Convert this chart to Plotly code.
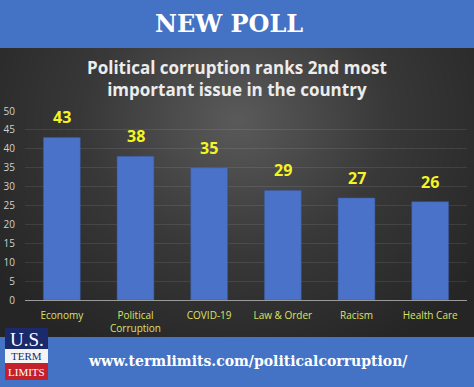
import numpy as np
import plotly.graph_objects as go

categories = ["Economy", "Political<br>Corruption", "COVID-19", "Law & Order", "Racism", "Health Care"]
values = [43, 38, 35, 29, 27, 26]
value_labels = ["43", "38", "35", "29", "27", "26"]
y_ticks = [0, 5, 10, 15, 20, 25, 30, 35, 40, 45, 50]

W, H = 474, 387

fig = go.Figure()

# decorative radial background (paper-pixel axes x/y)
gx = np.linspace(0, W, 48)
gy = np.linspace(48, 338, 30)
XX, YY = np.meshgrid(gx, gy)
d = np.sqrt(((XX - 237) / 300) ** 2 + ((YY - 120) / 260) ** 2)
Z = np.clip(1 - d, 0, 1)
fig.add_trace(go.Heatmap(x=gx, y=gy, z=Z, zsmooth="best", showscale=False,
                         colorscale=[[0, "#252525"], [0.5, "#383838"], [1, "#595959"]],
                         hoverinfo="skip", xaxis="x", yaxis="y"))

# bars on main axes
fig.add_trace(go.Bar(x=categories, y=values,
                     marker=dict(color="#4a72c8", line=dict(color="#3a5aa0", width=0.5)),
                     width=0.5, xaxis="x2", yaxis="y2"))

label_annotations = [
    dict(x=c, y=v, text=t, xref="x2", yref="y2", showarrow=False, yanchor="bottom", yshift=7,
         font=dict(family="Open Sans", size=16, color="#f5f523", weight="bold"))
    for c, v, t in zip(categories, values, value_labels)
]


def pa(text, px, py, **font):
    return dict(text=text, xref="paper", yref="paper", x=px / W, y=1 - py / H, showarrow=False,
                xanchor="center", yanchor="middle", font=font)


fig.update_layout(
    width=W, height=H,
    margin=dict(l=0, r=0, t=0, b=0),
    paper_bgcolor="#2e2e2e",
    plot_bgcolor="rgba(0,0,0,0)",
    showlegend=False,
    xaxis=dict(domain=[0, 1], range=[0, W], visible=False, fixedrange=True, automargin=False),
    yaxis=dict(domain=[0, 1], range=[H, 0], visible=False, fixedrange=True, automargin=False),
    xaxis2=dict(domain=[25 / W, 467 / W], anchor="y2", showgrid=False, automargin=False,
                tickfont=dict(family="Open Sans", size=10, color="#dde262"),
                showline=False, ticks="", ticklabelstandoff=8),
    yaxis2=dict(domain=[(H - 300) / H, (H - 111) / H], anchor="x2", range=[0, 50], automargin=False,
                tickvals=y_ticks, showgrid=True, gridcolor="rgba(255,255,255,0.09)", gridwidth=1,
                zeroline=True, zerolinecolor="#9a9a9a", zerolinewidth=1,
                tickfont=dict(family="Open Sans", size=10, color="#d0d0d0"),
                ticks="", ticklabelstandoff=9),
    bargap=0.5,
    shapes=[
        dict(type="rect", xref="paper", yref="paper", x0=0, x1=1, y0=1 - 48 / H, y1=1,
             fillcolor="#4472c4", line_width=0, layer="above"),
        dict(type="rect", xref="paper", yref="paper", x0=0, x1=1, y0=0, y1=(H - 337) / H,
             fillcolor="#4472c4", line_width=0, layer="above"),
        # logo boxes
        dict(type="rect", xref="paper", yref="paper", x0=5 / W, x1=48 / W, y0=1 - 349 / H, y1=1 - 328 / H,
             fillcolor="#1b2a6b", line_width=0, layer="above"),
        dict(type="rect", xref="paper", yref="paper", x0=5 / W, x1=48 / W, y0=1 - 363 / H, y1=1 - 349 / H,
             fillcolor="#f4f4f4", line_width=0, layer="above"),
        dict(type="rect", xref="paper", yref="paper", x0=5 / W, x1=48 / W, y0=1 - 380 / H, y1=1 - 363 / H,
             fillcolor="#c4202c", line_width=0, layer="above"),
    ],
    annotations=label_annotations + [
        pa("NEW POLL", 229, 23, family="DejaVu Serif", size=24, color="white", weight="bold"),
        pa("Political corruption ranks 2nd most<br>important issue in the country", 237, 78,
           family="Open Sans", size=17, color="#ececec", weight="bold"),
        pa("www.termlimits.com/politicalcorruption/", 248, 361,
           family="DejaVu Serif", size=14, color="white", weight="bold"),
        pa("U.S.", 26.5, 339, family="Liberation Serif", size=19, color="white"),
        pa("TERM", 26.5, 356, family="Liberation Serif", size=11, color="#1b2a6b"),
        pa("LIMITS", 26.5, 372, family="Liberation Serif", size=11, color="white"),
    ],
)

fig.write_html("out.html", post_script="document.body.style.margin='0';document.body.style.overflow='hidden';")
